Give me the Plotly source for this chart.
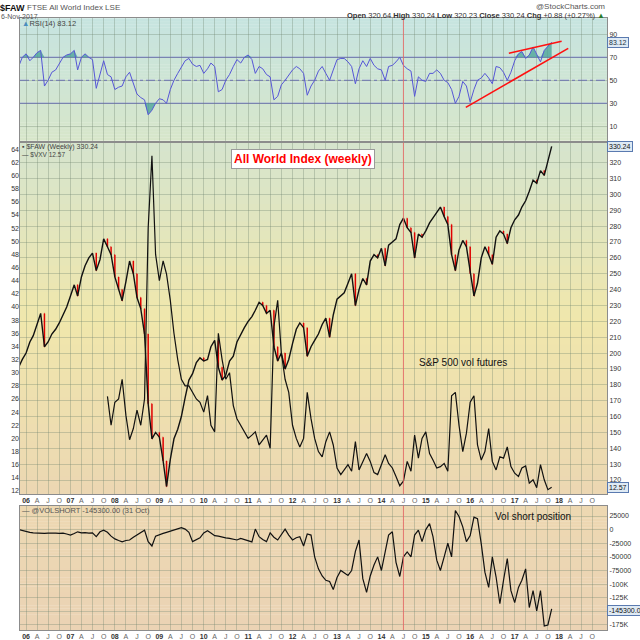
import numpy as np
import pandas as pd
import plotly.graph_objects as go

W, H = 640, 640
ML, MR = 20, 33

# ---- data (monthly readings) ----
months = pd.date_range("2005-11-01", periods=145, freq="MS")
vxv_months = pd.date_range("2007-11-01", periods=121, freq="MS")

faw_close = [
    191, 196,
    200, 207, 211, 218, 225, 204, 207, 212, 215, 219, 224, 229,
    236, 243, 236, 248, 255, 260, 263, 252, 259, 272, 267, 262,
    248, 240, 233, 245, 258, 250, 235, 228, 212, 168, 146, 150,
    147, 132, 116, 133, 146, 152, 160, 172, 183, 187, 194, 197,
    195, 196, 204, 208, 191, 183, 186, 195, 198, 207, 212, 216,
    220, 223, 227, 232, 230, 225, 227, 204, 195, 200, 190, 196,
    206, 215, 219, 216, 198, 204, 208, 212, 218, 222, 210, 224,
    234, 236, 238, 244, 250, 230, 240, 247, 243, 258, 262, 260,
    266, 255, 268, 270, 272, 281, 285, 279, 276, 260, 275, 273,
    277, 282, 285, 289, 292, 286, 281, 262, 252, 265, 271, 267,
    250, 236, 244, 260, 267, 262, 256, 273, 277, 275, 269, 279,
    284, 287, 292, 296, 302, 309, 307, 315, 312, 322, 330.24,
]

vxv = [
    26.4, 22,
    25.5, 26, 29, 23.5, 19.8, 21.5, 24.3, 22, 26, 52, 63, 48,
    44, 47, 45, 41, 36, 32, 29, 28, 28, 27, 26, 25.5,
    24, 26.5, 22, 21, 36, 32, 29, 30, 25, 23, 22, 21,
    20, 20.5, 21, 19, 19.8, 20.5, 18.5, 37, 41, 33, 29, 27,
    22, 20, 18.7, 20, 27, 23, 20, 18, 17.2, 19.5, 21, 19,
    15.5, 14.5, 15.2, 16, 15, 19.5, 15.2, 16.5, 17.7, 16.5, 14.8, 14.5,
    16, 17.5, 16.2, 15.5, 14.2, 12.8, 13.5, 16.5, 15, 20.5, 17, 20,
    21, 17.7, 16.7, 15.5, 15.7, 16.2, 15, 26.5, 27, 22, 18, 20.8,
    25.5, 26.5, 19, 16.7, 18, 21.5, 16.5, 15.2, 17.2, 17, 18.7, 15.7,
    14.7, 14.2, 15.5, 15.8, 13.2, 13.7, 12.5, 16, 13.7, 12.2, 12.57,
]

rsi = [
    62, 70,
    73, 67, 70, 74, 76, 45, 50, 57, 59, 64, 70, 72,
    73, 76, 59, 70, 73, 70, 68, 43, 56, 67, 55, 53,
    42, 44, 45, 53, 57, 47, 38, 35, 33, 20, 24, 30,
    34, 33, 30, 42, 50, 56, 62, 67, 69, 64, 62, 63,
    56, 60, 65, 62, 40, 42, 50, 55, 62, 68, 65, 70,
    72, 68, 56, 62, 60, 55, 53, 33, 36, 46, 50, 55,
    59, 62, 60, 56, 37, 45, 50, 58, 62, 56, 50, 59,
    68, 69, 69, 66, 62, 47, 60, 67, 62, 69, 63, 60,
    59, 50, 62, 63, 66, 70, 63, 60, 58, 36, 53, 50,
    49, 56, 56, 59, 56, 50, 48, 42, 30, 36, 49, 45,
    31, 42, 50, 52, 56, 52, 47, 62, 61, 57, 50, 57,
    67, 73, 75, 69, 72, 79, 72, 66, 76, 80, 83.12,
]

volshort = [
    0, -2000,
    -3000, -5000, -6000, -6500, -6000, -7000, -6500, -6000, -6500, -7000, -6500, -8000,
    -10000, -7000, -4000, -6000, -5500, -6500, -6000, -13000, -4000, -1000, -5000, -12000,
    -17000, -20000, -22500, -20000, -19000, -14000, -10000, -5000, -1000, -22000, -30000, -12000,
    -9000, -7000, -5000, -3000, -1000, 2000, 3500, 1000, -5000, -22000, -19000, -15000,
    -6000, -2000, -6000, -11000, -12000, -14000, -15000, -16000, -18000, -19000, -16000, -18000,
    -21000, -22500, 1000, -13000, -18000, -22000, -6000, -14000, -19000, -8000, 1000, -10000,
    -19000, -15000, -13000, -30000, -8000, -10000, -50000, -72000, -85000, -93000, -95000, -110000,
    -88000, -75000, -80000, -84000, -75000, -40000, -19000, -90000, -115000, -85000, -65000, -50000,
    -75000, -40000, -10000, -4000, -60000, -86000, -50000, -41000, -50000, -10000, -1000, -22000,
    0, 11000, -13000, -56000, -75000, -50000, -25000, -50000, 35000, 24000, 5000, -22000,
    -11000, 23000, 20000, -26000, -78000, -106000, -50000, -87000, -136000, -93000, -53000, -112000,
    -134000, -106000, -93000, -72000, -143000, -112000, -149000, -112000, -177000, -175000, -145300,
]

# red trend lines on the RSI panel
trend_low_dates = ["2015-11-26", "2018-03-17"]
trend_low_vals = [26.5, 77.8]
trend_up_dates = ["2016-11-14", "2018-01-22"]
trend_up_vals = [73.5, 83.9]

marker_date = "2014-07-01"

quarters = pd.date_range("2006-01-01", "2018-10-01", freq="QS")
qtext = ["<b>%02d</b>" % (d.year % 100) if d.month == 1
         else '<span style="color:#666">%s</span>' % "AJO"[(d.month - 4) // 3]
         for d in quarters]

x_range = ["2005-11-12", "2019-01-30"]

# ---- figure ----
fig = go.Figure()

close = np.array(faw_close, dtype=float)
open_ = np.r_[close[0], close[:-1]]
n = len(months)

fill_col = "rgba(70,160,150,0.75)"
fig.add_trace(go.Scatter(x=months, y=[70] * n, mode="lines", line_width=0,
                         hoverinfo="skip", showlegend=False))
fig.add_trace(go.Scatter(x=months, y=np.maximum(rsi, 70), mode="lines", line_width=0,
                         fill="tonexty", fillcolor=fill_col, hoverinfo="skip", showlegend=False))
fig.add_trace(go.Scatter(x=months, y=[30] * n, mode="lines", line_width=0,
                         hoverinfo="skip", showlegend=False))
fig.add_trace(go.Scatter(x=months, y=np.minimum(rsi, 30), mode="lines", line_width=0,
                         fill="tonexty", fillcolor=fill_col, hoverinfo="skip", showlegend=False))
fig.add_trace(go.Scatter(x=months, y=rsi, mode="lines", line=dict(color="#5656d6", width=1),
                         showlegend=False))
fig.add_trace(go.Scatter(x=trend_low_dates, y=trend_low_vals, mode="lines",
                         line=dict(color="#ff1010", width=1.6), showlegend=False))
fig.add_trace(go.Scatter(x=trend_up_dates, y=trend_up_vals, mode="lines",
                         line=dict(color="#ff1010", width=1.6), showlegend=False))

# FAW: black close line with red bars on the down months
fig.add_trace(go.Scatter(x=months, y=close, mode="lines", line=dict(color="#111", width=1.4),
                         xaxis="x2", yaxis="y2", showlegend=False))
fig.add_trace(go.Ohlc(x=months, open=open_, high=np.maximum(open_, close),
                      low=np.minimum(open_, close), close=close,
                      increasing_line_color="rgba(0,0,0,0)", decreasing_line_color="#e00000",
                      line_width=1.5, tickwidth=0.12, xaxis="x2", yaxis="y2",
                      showlegend=False, hoverinfo="skip"))
fig.add_trace(go.Scatter(x=vxv_months, y=vxv, mode="lines", line=dict(color="#111", width=1.2),
                         xaxis="x2", yaxis="y3", showlegend=False))
fig.add_trace(go.Scatter(x=months, y=volshort, mode="lines", line=dict(color="#111", width=1.2),
                         xaxis="x3", yaxis="y4", showlegend=False))


def px(x):
    return (x - ML) / (W - ML - MR)


def py(y):
    return 1 - y / H


dom_rsi = [py(140.5), py(18.3)]
dom_main = [py(494), py(142.5)]
dom_vol = [py(630), py(505.7)]

grid = "rgba(110,130,110,0.33)"
tickfont = dict(size=7, color="#333")
xcommon = dict(type="date", range=x_range, tickmode="array", tickvals=quarters,
               ticktext=qtext, showgrid=True, gridcolor=grid, ticks="", zeroline=False,
               showline=True, mirror=True, linecolor="#8c8c8c", tickfont=tickfont,
               domain=[0, 1])
ycommon = dict(showgrid=True, gridcolor=grid, ticks="", zeroline=False, showline=True,
               mirror=True, linecolor="#8c8c8c", tickfont=tickfont)

fig.update_layout(
    width=W, height=H, margin=dict(l=ML, r=MR, t=0, b=0),
    paper_bgcolor="white", plot_bgcolor="white",
    font=dict(family="Arial, Liberation Sans", size=8, color="#333"),
    hovermode=False,
    xaxis=dict(xcommon, anchor="y", showticklabels=False),
    xaxis2=dict(xcommon, anchor="y2", matches="x", rangeslider=dict(visible=False)),
    xaxis3=dict(xcommon, anchor="y4", matches="x"),
    yaxis=dict(ycommon, domain=dom_rsi, side="right", range=[-2.35, 103.9],
               tickmode="array", tickvals=[10, 30, 50, 70, 90], anchor="x"),
    yaxis2=dict(ycommon, domain=dom_main, side="right", range=[111.2, 332.7],
                tickmode="array", tickvals=list(range(120, 330, 10)), anchor="x2"),
    yaxis3=dict(ycommon, overlaying="y2", side="left", range=[11.54, 65.03], showgrid=False,
                showline=False, tickmode="array", tickvals=list(range(12, 66, 2)), anchor="x2"),
    yaxis4=dict(ycommon, domain=dom_vol, side="right", range=[-184200, 43900], anchor="x3",
                tickmode="array",
                tickvals=[25000, 0, -25000, -50000, -75000, -100000, -125000, -150000, -175000],
                ticktext=["25000", "0", "-25000", "-50000", "-75000", "-100K", "-125K", "", "-175K"]),
)


def blend(stops, t):
    for (p0, c0), (p1, c1) in zip(stops, stops[1:]):
        if p0 <= t <= p1:
            f = (t - p0) / (p1 - p0)
            return "rgb(%d,%d,%d)" % tuple(round(a + (b - a) * f) for a, b in zip(c0, c1))
    return "rgb(%d,%d,%d)" % stops[-1][1]


panels = [
    ("x domain", "y domain", [(0, (198, 228, 224)), (1, (215, 230, 202))]),
    ("x2 domain", "y2 domain", [(0, (213, 228, 206)), (0.5, (240, 231, 172)),
                                (1, (236, 215, 178))]),
    ("x3 domain", "y4 domain", [(0, (237, 216, 178)), (1, (235, 211, 180))]),
]
shapes = []
steps = 40
for xr, yr, stops in panels:
    for i in range(steps):
        t0, t1 = i / steps, (i + 1) / steps
        shapes.append(dict(type="rect", xref=xr, yref=yr, x0=0, x1=1,
                           y0=1 - t1 - 0.003, y1=1 - t0, layer="below", line_width=0,
                           fillcolor=blend(stops, (t0 + t1) / 2)))

for level, dash in [(70, "solid"), (30, "solid"), (50, "dashdot")]:
    shapes.append(dict(type="line", xref="x domain", yref="y", x0=0, x1=1, y0=level, y1=level,
                       line=dict(color="#6a6ad0", width=1, dash=dash), layer="below"))
for yr in ["y domain", "y2 domain", "y4 domain"]:
    shapes.append(dict(type="line", xref="x", yref=yr, x0=marker_date, x1=marker_date,
                       y0=0, y1=1, line=dict(color="rgba(240,100,100,0.8)", width=1),
                       layer="above"))
fig.update_layout(shapes=shapes)


def note(text, x, y, size=8, color="#333", anchor="left", **kw):
    fig.add_annotation(text=text, x=px(x), y=py(y), xref="paper", yref="paper",
                       xanchor=anchor, yanchor="middle", showarrow=False,
                       font=dict(size=size, color=color), **kw)


note("<b>$FAW</b>", -2, 7.5, size=9, color="#111")
note("FTSE All World Index LSE", 25, 8, size=8, color="#555")
note("6-Nov-2017", -1, 16, size=7, color="#555")
note("@StockCharts.com", 607, 6, size=8, color="#555", anchor="right")
note("<b>Open</b> 320.64 <b>High</b> 330.24 <b>Low</b> 320.23 <b>Close</b> 330.24 "
     "<b>Chg</b> +0.88 (+0.27%) <span style=\"color:#2a7a2a\">▲</span>",
     607, 15.5, size=7.5, color="#333", anchor="right")

note('<span style="color:#4a8ec0">▲</span>RSI(14) 83.12', 20, 24, size=7.5, color="#444")
note("<b>▪</b> $FAW (Weekly) 330.24", 20, 146.5, size=7, color="#444")
note("— $VXV 12.57", 20, 154, size=6.5, color="#444")
note("— @VOLSHORT -145300.00 (31 Oct)", 20, 510, size=7.5, color="#555")

note("<b>All World Index (weekly)</b>", 302.7, 159.2, size=12, color="#ff0000",
     anchor="center", bgcolor="white", bordercolor="#9a9a9a", borderwidth=1, borderpad=2)
note("S&P 500 vol futures", 463, 362.7, size=10, color="#111", anchor="center")
note("Vol short position", 532.5, 516.7, size=10, color="#111", anchor="center")

tag = dict(bgcolor="#dfeaf4", bordercolor="#5a7ab0", borderwidth=1, borderpad=1)
note("83.12", 607, 42, size=7, color="#234", **tag)
note("330.24", 607, 146, size=7, color="#111", **tag)
note("12.57", 607, 487.3, size=7, color="#111", **tag)
note("-145300.00", 607, 610, size=7, color="#111", **tag)

fig.write_html("out.html", config={"displayModeBar": False},
               post_script="document.body.style.margin='0';")
